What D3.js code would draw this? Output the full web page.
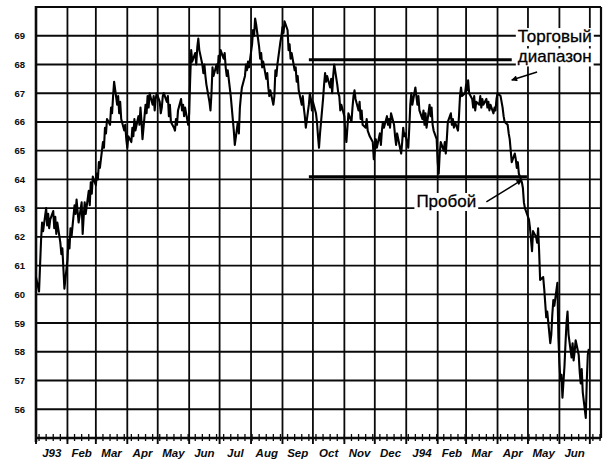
<!DOCTYPE html>
<html>
<head>
<meta charset="utf-8">
<script src="https://cdn.jsdelivr.net/npm/d3@7"></script>
<style>
  html, body { margin: 0; padding: 0; background: #fff; }
  svg { display: block; }
</style>
</head>
<body>
<svg id="chart" width="613" height="468"></svg>
<script>
// ---- Data ----
const dates = [
"1993-01-01","1993-01-04","1993-01-05","1993-01-06","1993-01-07","1993-01-08","1993-01-11","1993-01-12","1993-01-13","1993-01-14","1993-01-15",
"1993-01-18","1993-01-19","1993-01-20","1993-01-21","1993-01-22","1993-01-25","1993-01-26","1993-01-27","1993-01-28","1993-01-29",
"1993-02-01","1993-02-02","1993-02-03","1993-02-04","1993-02-05","1993-02-08","1993-02-09","1993-02-10","1993-02-11","1993-02-12",
"1993-02-15","1993-02-16","1993-02-17","1993-02-18","1993-02-19","1993-02-22","1993-02-23","1993-02-24","1993-02-25","1993-02-26",
"1993-03-01","1993-03-02","1993-03-03","1993-03-04","1993-03-05","1993-03-08","1993-03-09","1993-03-10","1993-03-11","1993-03-12",
"1993-03-15","1993-03-16","1993-03-17","1993-03-18","1993-03-19","1993-03-22","1993-03-23","1993-03-24","1993-03-25","1993-03-26",
"1993-03-29","1993-03-30","1993-03-31","1993-04-01","1993-04-02","1993-04-05","1993-04-06","1993-04-07","1993-04-08","1993-04-09",
"1993-04-12","1993-04-13","1993-04-14","1993-04-15","1993-04-16","1993-04-19","1993-04-20","1993-04-21","1993-04-22","1993-04-23",
"1993-04-26","1993-04-27","1993-04-28","1993-04-29","1993-04-30","1993-05-03","1993-05-04","1993-05-05","1993-05-06","1993-05-07",
"1993-05-10","1993-05-11","1993-05-12","1993-05-13","1993-05-14","1993-05-17","1993-05-18","1993-05-19","1993-05-20","1993-05-21",
"1993-05-24","1993-05-25","1993-05-26","1993-05-27","1993-05-28","1993-05-31","1993-06-01","1993-06-02","1993-06-03","1993-06-04",
"1993-06-07","1993-06-08","1993-06-09","1993-06-10","1993-06-11","1993-06-14","1993-06-15","1993-06-16","1993-06-17","1993-06-18",
"1993-06-21","1993-06-22","1993-06-23","1993-06-24","1993-06-25","1993-06-28","1993-06-29","1993-06-30","1993-07-01","1993-07-02",
"1993-07-05","1993-07-06","1993-07-07","1993-07-08","1993-07-09","1993-07-12","1993-07-13","1993-07-14","1993-07-15","1993-07-16",
"1993-07-19","1993-07-20","1993-07-21","1993-07-22","1993-07-23","1993-07-26","1993-07-27","1993-07-28","1993-07-29","1993-07-30",
"1993-08-02","1993-08-03","1993-08-04","1993-08-05","1993-08-06","1993-08-09","1993-08-10","1993-08-11","1993-08-12","1993-08-13",
"1993-08-16","1993-08-17","1993-08-18","1993-08-19","1993-08-20","1993-08-23","1993-08-24","1993-08-25","1993-08-26","1993-08-27",
"1993-08-30","1993-08-31","1993-09-01","1993-09-02","1993-09-03","1993-09-06","1993-09-07","1993-09-08","1993-09-09","1993-09-10",
"1993-09-13","1993-09-14","1993-09-15","1993-09-16","1993-09-17","1993-09-20","1993-09-21","1993-09-22","1993-09-23","1993-09-24",
"1993-09-27","1993-09-28","1993-09-29","1993-09-30","1993-10-01","1993-10-04","1993-10-05","1993-10-06","1993-10-07","1993-10-08",
"1993-10-11","1993-10-12","1993-10-13","1993-10-14","1993-10-15","1993-10-18","1993-10-19","1993-10-20","1993-10-21","1993-10-22",
"1993-10-25","1993-10-26","1993-10-27","1993-10-28","1993-10-29","1993-11-01","1993-11-02","1993-11-03","1993-11-04","1993-11-05",
"1993-11-08","1993-11-09","1993-11-10","1993-11-11","1993-11-12","1993-11-15","1993-11-16","1993-11-17","1993-11-18","1993-11-19",
"1993-11-22","1993-11-23","1993-11-24","1993-11-26","1993-11-29","1993-11-30","1993-12-01","1993-12-02","1993-12-03","1993-12-06",
"1993-12-07","1993-12-08","1993-12-09","1993-12-10","1993-12-13","1993-12-14","1993-12-15","1993-12-16","1993-12-17","1993-12-20",
"1993-12-21","1993-12-22","1993-12-23","1993-12-27","1993-12-28","1993-12-29","1993-12-30","1993-12-31","1994-01-03","1994-01-04",
"1994-01-05","1994-01-06","1994-01-07","1994-01-10","1994-01-11","1994-01-12","1994-01-13","1994-01-14","1994-01-17","1994-01-18",
"1994-01-19","1994-01-20","1994-01-21","1994-01-24","1994-01-25","1994-01-26","1994-01-27","1994-01-28","1994-01-31","1994-02-01",
"1994-02-02","1994-02-03","1994-02-04","1994-02-07","1994-02-08","1994-02-09","1994-02-10","1994-02-11","1994-02-14","1994-02-15",
"1994-02-16","1994-02-17","1994-02-18","1994-02-21","1994-02-22","1994-02-23","1994-02-24","1994-02-25","1994-02-28","1994-03-01",
"1994-03-02","1994-03-03","1994-03-04","1994-03-07","1994-03-08","1994-03-09","1994-03-10","1994-03-11","1994-03-14","1994-03-15",
"1994-03-16","1994-03-17","1994-03-18","1994-03-21","1994-03-22","1994-03-23","1994-03-24","1994-03-25","1994-03-28","1994-03-29",
"1994-03-30","1994-03-31","1994-04-01","1994-04-04","1994-04-05","1994-04-06","1994-04-07","1994-04-08","1994-04-11","1994-04-12",
"1994-04-13","1994-04-14","1994-04-15","1994-04-18","1994-04-19","1994-04-20","1994-04-21","1994-04-22","1994-04-25","1994-04-26",
"1994-04-27","1994-04-28","1994-04-29","1994-05-02","1994-05-03","1994-05-04","1994-05-05","1994-05-06","1994-05-09","1994-05-10",
"1994-05-11","1994-05-12","1994-05-13","1994-05-16","1994-05-17","1994-05-18","1994-05-19","1994-05-20","1994-05-23","1994-05-24",
"1994-05-25","1994-05-26","1994-05-27","1994-05-30","1994-05-31","1994-06-01","1994-06-02","1994-06-03","1994-06-04","1994-06-06",
"1994-06-07","1994-06-08","1994-06-09","1994-06-10","1994-06-13","1994-06-14","1994-06-15","1994-06-16","1994-06-17","1994-06-20",
"1994-06-21","1994-06-22","1994-06-23","1994-06-24","1994-06-27","1994-06-28","1994-06-29","1994-06-30"
];
const prices = [
60.6,60.1,61.0,61.9,62.5,62.2,63.0,62.4,62.8,62.3,62.6,
62.9,62.3,62.7,62.1,62.5,61.8,61.4,61.6,60.9,60.2,
61.2,61.9,61.6,62.3,62.0,63.1,62.8,63.3,62.9,62.5,
63.2,62.1,62.7,63.2,62.8,63.6,63.1,63.9,63.5,64.1,
63.8,64.2,64.0,64.6,64.4,65.3,65.1,65.8,65.6,66.1,
65.9,66.5,66.3,66.9,67.4,66.6,66.9,66.3,66.7,66.1,
65.7,65.9,65.4,65.1,65.5,65.3,65.8,65.5,66.1,65.7,
66.2,65.9,66.5,66.0,65.4,66.6,66.3,66.9,66.5,67.0,
66.6,66.9,66.4,66.8,67.0,66.7,66.3,66.5,66.9,67.0,
66.7,66.9,66.2,66.6,66.0,65.8,65.7,66.1,65.9,66.4,
66.8,66.4,66.6,66.2,66.5,65.9,66.3,67.5,68.5,68.1,
68.4,68.0,68.6,68.9,68.5,68.0,67.7,68.0,67.6,67.3,
66.7,66.4,67.0,67.9,67.6,68.0,67.7,68.3,68.1,68.5,
68.2,68.4,67.9,67.6,67.8,66.9,66.5,66.1,65.7,65.2,
66.0,65.6,66.5,66.9,67.2,67.6,68.0,67.8,68.1,67.9,
68.7,69.2,69.0,69.6,69.4,68.6,68.2,68.4,67.9,68.1,
67.5,67.7,67.2,66.9,67.1,66.6,66.9,67.8,67.6,68.0,
68.8,69.0,69.3,69.1,69.5,69.2,68.5,68.7,68.2,68.4,
67.8,67.9,67.4,67.6,67.1,66.6,66.9,66.5,66.2,65.8,
66.6,67.0,66.8,66.4,66.7,66.3,66.0,65.5,65.1,65.6,
66.8,67.3,67.7,67.4,67.6,67.2,67.5,67.0,67.6,68.0,
67.3,67.0,66.9,66.4,66.6,66.2,65.6,65.3,65.8,66.3,
66.0,66.5,66.9,67.1,66.8,66.4,66.7,66.1,66.4,65.9,
65.8,66.1,65.7,65.5,65.3,64.7,65.0,65.4,65.1,65.6,
65.2,65.7,66.0,65.8,66.2,65.9,66.1,65.8,66.3,65.9,
65.5,65.2,65.6,64.9,65.3,65.8,65.5,65.6,65.1,65.8,
66.6,67.0,66.6,67.2,66.9,66.6,66.9,66.4,66.1,66.4,
65.9,66.3,65.8,66.6,66.2,66.5,65.9,65.7,65.4,64.6,
64.2,64.9,65.3,65.0,65.3,64.9,65.4,66.0,66.3,65.9,
66.1,65.8,66.0,65.7,66.2,66.9,67.2,66.9,67.0,67.3,
67.1,67.45,67.0,66.8,66.5,66.9,66.4,66.7,66.6,66.9,
66.5,66.8,66.6,66.8,66.5,66.7,66.4,66.6,66.3,66.5,
66.4,66.8,67.0,66.9,66.7,66.5,66.2,66.0,65.9,65.6,
65.4,65.0,64.6,64.9,64.7,64.4,64.6,64.2,63.9,63.7,
63.2,63.0,62.9,62.6,62.3,61.9,61.5,62.2,62.0,61.8,
62.3,61.5,60.5,60.6,60.2,59.7,59.2,59.4,58.3,58.6,
59.3,59.8,59.6,60.4,58.5,57.6,57.0,57.2,56.4,57.5,
58.3,59.0,59.4,58.6,57.8,58.3,57.7,58.0,58.4,57.9,
57.3,56.9,57.4,56.6,55.7,57.0,57.9,58.1
];
// Axis / tick labels
const yTicks = [56, 57, 58, 59, 60, 61, 62, 63, 64, 65, 66, 67, 68, 69];
const monthLabels = ["J93","Feb","Mar","Apr","May","Jun","Jul","Aug","Sep","Oct","Nov","Dec",
                     "J94","Feb","Mar","Apr","May","Jun"];
// Trading range annotation (levels, start, ends)
const rangeLevels = [68.16, 64.09];
const rangeStart = "1993-09-27";
const rangeEnds = ["1994-04-15", "1994-04-30"];
// Annotation texts and their anchors (date, value)
const noteTexts = ["Торговый", "диапазон", "Пробой"];
const noteDates = ["1994-04-21", "1994-04-21", "1994-01-11"];
const noteValues = [68.78, 68.07, 63.04];
// Arrows: [fromDate, fromValue, toDate, toValue]
const arrowFromDates = ["1994-05-10", "1994-03-21"];
const arrowFromValues = [67.74, 63.22];
const arrowToDates = ["1994-04-15", "1994-04-25"];
const arrowToValues = [67.46, 63.98];

// ---- Drawing ----
const parse = d3.utcParse("%Y-%m-%d");
const svg = d3.select("#chart");
const W = 613, H = 468;
svg.append("rect").attr("width", W).attr("height", H).attr("fill", "#fff");

const x = d3.scaleUtc()
  .domain([parse("1993-01-01"), parse("1994-07-12")])
  .range([36, 601]);
const y = d3.scaleLinear().domain([55, 70]).range([438, 7]);

const [x0, x1] = x.range();
const [yb, yt] = y.range();
const ink = "#0a0a0a";

// Horizontal grid lines
svg.append("g").selectAll("line").data(yTicks.concat([70])).join("line")
  .attr("x1", x0).attr("x2", x1)
  .attr("y1", d => y(d)).attr("y2", d => y(d))
  .attr("stroke", ink).attr("stroke-width", 1.9);

// Vertical month grid lines
const months = d3.utcMonth.range(parse("1993-01-01"), parse("1994-07-02"));
svg.append("g").selectAll("line").data(months.slice(1)).join("line")
  .attr("x1", d => x(d)).attr("x2", d => x(d))
  .attr("y1", yt).attr("y2", yb)
  .attr("stroke", ink).attr("stroke-width", 1.8);

// Right border
svg.append("line").attr("x1", x1).attr("x2", x1).attr("y1", yt).attr("y2", yb)
  .attr("stroke", ink).attr("stroke-width", 2.2);

// Left axis line
svg.append("line").attr("x1", x0).attr("x2", x0).attr("y1", yt - 1).attr("y2", yb + 4)
  .attr("stroke", ink).attr("stroke-width", 2.6);

// Bottom axis with weekly and monthly ticks
const xAxis = d3.axisBottom(x).ticks(d3.utcMonday.every(1)).tickSize(0).tickFormat("");
const gx = svg.append("g").attr("transform", `translate(0,${yb})`).call(xAxis);
gx.select(".domain").remove();
svg.append("line").attr("x1", x0).attr("x2", x1).attr("y1", yb).attr("y2", yb)
  .attr("stroke", ink).attr("stroke-width", 2.6);
svg.append("g").selectAll("line").data(d3.utcMonday.range(x.domain()[0], x.domain()[1])).join("line")
  .attr("x1", d => x(d)).attr("x2", d => x(d))
  .attr("y1", yb - 4).attr("y2", yb + 3)
  .attr("stroke", ink).attr("stroke-width", 1.3);
svg.append("g").selectAll("line").data(months).join("line")
  .attr("x1", d => x(d)).attr("x2", d => x(d))
  .attr("y1", yb).attr("y2", yb + 6)
  .attr("stroke", ink).attr("stroke-width", 1.9);

// Month labels centred in each month
svg.append("g").selectAll("text").data(monthLabels).join("text")
  .attr("x", (d, i) => (x(months[i]) + x(months[i + 1])) / 2)
  .attr("y", 457)
  .attr("text-anchor", "middle")
  .attr("font-family", "Liberation Sans, Arial, sans-serif")
  .attr("font-weight", "bold").attr("font-style", "italic")
  .attr("font-size", 11.5).attr("fill", ink)
  .text(d => d);

// Y labels
svg.append("g").selectAll("text").data(yTicks).join("text")
  .attr("x", 25).attr("y", d => y(d) + 3.5)
  .attr("text-anchor", "end")
  .attr("font-family", "Liberation Sans, Arial, sans-serif")
  .attr("font-weight", "bold").attr("font-size", 9.5).attr("fill", ink)
  .text(d => d);

// Price line
const series = dates.map((d, i) => ({ date: parse(d), value: prices[i] }));
svg.append("path").datum(series)
  .attr("d", d3.line().x(d => x(d.date)).y(d => y(d.value)))
  .attr("fill", "none").attr("stroke", "#000")
  .attr("stroke-width", 2.1).attr("stroke-linejoin", "round");

// Trading range lines
svg.append("g").selectAll("line").data(rangeLevels).join("line")
  .attr("x1", x(parse(rangeStart)))
  .attr("x2", (d, i) => x(parse(rangeEnds[i])))
  .attr("y1", d => y(d)).attr("y2", d => y(d))
  .attr("stroke", "#000").attr("stroke-width", 3);

// Annotation texts on white backgrounds
const notes = svg.append("g");
const bgs = notes.append("g");
const texts = notes.selectAll("text").data(noteTexts).join("text")
  .attr("x", (d, i) => x(parse(noteDates[i])))
  .attr("y", (d, i) => y(noteValues[i]))
  .attr("font-family", "Liberation Sans, Arial, sans-serif")
  .attr("font-size", 17).attr("fill", "#000")
  .attr("stroke", "#000").attr("stroke-width", 0.3)
  .text(d => d);
texts.each(function () {
  const b = this.getBBox();
  bgs.append("rect")
    .attr("x", b.x - 2).attr("y", b.y + 1)
    .attr("width", b.width + 4).attr("height", b.height - 1)
    .attr("fill", "#fff");
});

// Arrows
svg.append("defs").append("marker")
  .attr("id", "arr").attr("viewBox", "0 0 10 10")
  .attr("refX", 9).attr("refY", 5)
  .attr("markerWidth", 7).attr("markerHeight", 6)
  .attr("markerUnits", "userSpaceOnUse")
  .attr("orient", "auto")
  .append("path").attr("d", "M0,0 L10,5 L0,10 Z").attr("fill", "#000");
svg.append("g").selectAll("line").data(arrowFromDates).join("line")
  .attr("x1", (d, i) => x(parse(arrowFromDates[i])))
  .attr("y1", (d, i) => y(arrowFromValues[i]))
  .attr("x2", (d, i) => x(parse(arrowToDates[i])))
  .attr("y2", (d, i) => y(arrowToValues[i]))
  .attr("stroke", "#000").attr("stroke-width", 1.5)
  .attr("marker-end", "url(#arr)");
</script>
</body>
</html>
